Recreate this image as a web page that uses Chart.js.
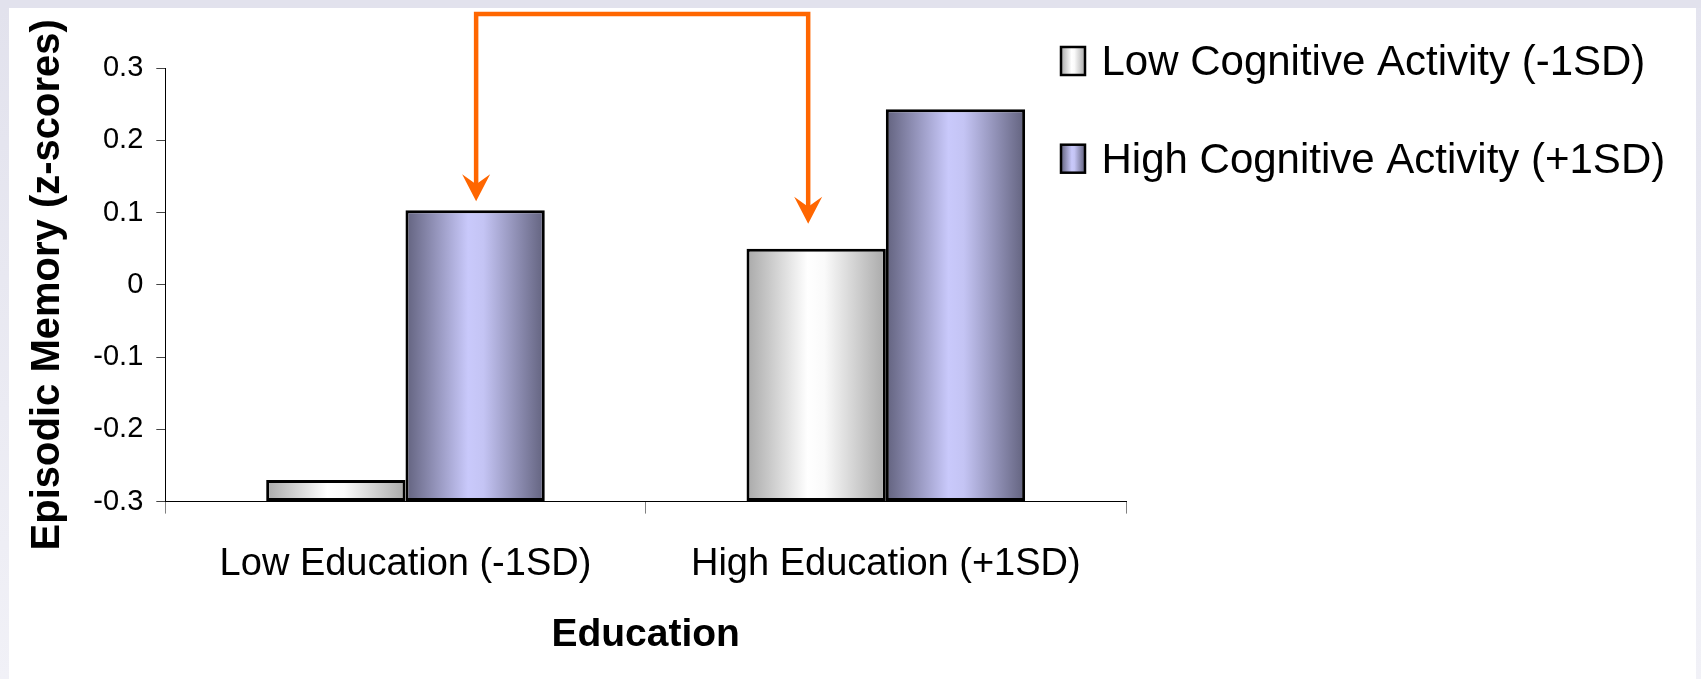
<!DOCTYPE html>
<html>
<head>
<meta charset="utf-8">
<title>Episodic Memory by Education and Cognitive Activity</title>
<script src="https://cdn.jsdelivr.net/npm/chart.js@4.4.1/dist/chart.umd.min.js"></script>
<style>
  html, body { margin: 0; padding: 0; }
  body { width: 1701px; height: 679px; overflow: hidden; position: relative; background: #e2e2ed; }
  #frameLeft { position: absolute; left: 0; top: 8px; width: 9px; height: 671px; background: linear-gradient(#e2e2ed, #f1f1f7); }
  #frameRight { position: absolute; left: 1696px; top: 8px; width: 5px; height: 671px; background: linear-gradient(#e4e4ef, #f1f1f7); }
  #panel { position: absolute; left: 9px; top: 8px; width: 1687px; height: 671px; background: #ffffff; }
  #chart { position: absolute; left: 0; top: 0; }
</style>
</head>
<body>
<div id="frameLeft"></div>
<div id="frameRight"></div>
<div id="panel"></div>
<canvas id="chart" width="1701" height="679"></canvas>
<script>
// ---- data ----
const CATEGORIES = ['Low Education (-1SD)', 'High Education (+1SD)'];
const SERIES_NAMES = ['Low Cognitive Activity (-1SD)', 'High Cognitive Activity (+1SD)'];
const LOW_COGNITIVE = [-0.27, 0.05];
const HIGH_COGNITIVE = [0.103, 0.243];
const Y_TICKS = [-0.3, -0.2, -0.1, 0, 0.1, 0.2, 0.3];
const X_TITLE = 'Education';
const Y_TITLE = 'Episodic Memory (z-scores)';

// ---- styling ----
const FONT = "'Liberation Sans', Arial, Helvetica, sans-serif";
const CAT_PCT = 0.58;
const SHADES = [
  { flat: '#d8d8d8', stops: [[0, '#a9a9a9'], [0.44, '#ffffff'], [0.56, '#fafafa'], [1, '#a9a9a9']] },
  { flat: '#9c9cc8', stops: [[0, '#62627e'], [0.45, '#c9c9fb'], [0.56, '#c4c4f4'], [1, '#62627e']] }
];

function shadeGradient(ctx, x0, x1, shade) {
  const g = ctx.createLinearGradient(x0, 0, x1, 0);
  shade.stops.forEach(([p, c]) => g.addColorStop(p, c));
  return g;
}

// horizontal cylinder-like shading for each bar, computed from the category scale
function barFill(context) {
  const chart = context.chart;
  const shade = SHADES[context.datasetIndex];
  const xs = chart.scales.x;
  if (!chart.chartArea || !xs || context.dataIndex === undefined) return shade.flat;
  const n = chart.data.labels.length;
  const catW = (xs.right - xs.left) / n;
  const groupW = catW * CAT_PCT;
  const barW = groupW / chart.data.datasets.length;
  const center = xs.getPixelForValue(context.dataIndex);
  const x0 = center - groupW / 2 + context.datasetIndex * barW;
  return shadeGradient(chart.ctx, x0, x0 + barW, shade);
}

// legend with shaded swatches at the upper right
const sideLegend = {
  id: 'sideLegend',
  afterDraw(chart) {
    const ctx = chart.ctx;
    const rows = [75, 172.7];
    ctx.save();
    ctx.font = '42px ' + FONT;
    ctx.textBaseline = 'alphabetic';
    ctx.textAlign = 'left';
    SERIES_NAMES.forEach((name, i) => {
      const base = rows[i];
      const sx = 1061, sw = 24, sh = 28, sy = base - sh;
      ctx.fillStyle = shadeGradient(ctx, sx, sx + sw, SHADES[i]);
      ctx.fillRect(sx, sy, sw, sh);
      ctx.lineWidth = 2.5;
      ctx.strokeStyle = '#000';
      ctx.strokeRect(sx, sy, sw, sh);
      ctx.fillStyle = '#000';
      ctx.fillText(name, 1101.5, base);
    });
    ctx.restore();
  }
};

// orange bracket arrows pointing at the compared bars
const bracketArrows = {
  id: 'bracketArrows',
  afterDatasetsDraw(chart) {
    const left = chart.getDatasetMeta(1).data[0];
    const right = chart.getDatasetMeta(0).data[1];
    if (!left || !right) return;
    const topY = 14;
    const xL = left.x + 1, tipL = left.y - 9;
    const xR = right.x - 8, tipR = right.y - 25;
    const ctx = chart.ctx;
    ctx.save();
    ctx.strokeStyle = '#ff6600';
    ctx.fillStyle = '#ff6600';
    ctx.lineWidth = 4.5;
    ctx.lineJoin = 'miter';
    ctx.beginPath();
    ctx.moveTo(xL, tipL - 14);
    ctx.lineTo(xL, topY);
    ctx.lineTo(xR, topY);
    ctx.lineTo(xR, tipR - 14);
    ctx.stroke();
    [[xL, tipL], [xR, tipR]].forEach(([x, y]) => {
      ctx.beginPath();
      ctx.moveTo(x, y);
      ctx.lineTo(x + 14, y - 27);
      ctx.lineTo(x, y - 17);
      ctx.lineTo(x - 14, y - 27);
      ctx.closePath();
      ctx.fill();
    });
    ctx.restore();
  }
};

const barStyle = {
  base: Y_TICKS[0],
  backgroundColor: barFill,
  borderColor: '#000000',
  borderWidth: 3,
  borderSkipped: false,
  categoryPercentage: CAT_PCT,
  barPercentage: 1
};

new Chart(document.getElementById('chart'), {
  type: 'bar',
  data: {
    labels: CATEGORIES,
    datasets: [
      Object.assign({ label: SERIES_NAMES[0], data: LOW_COGNITIVE }, barStyle),
      Object.assign({ label: SERIES_NAMES[1], data: HIGH_COGNITIVE }, barStyle)
    ]
  },
  options: {
    responsive: false,
    animation: false,
    devicePixelRatio: 1,
    layout: { padding: { left: 0, top: 68, right: 575, bottom: 0 } },
    plugins: {
      colors: { enabled: false },
      legend: { display: false },
      tooltip: { enabled: false },
      title: { display: false }
    },
    scales: {
      x: {
        type: 'category',
        offset: true,
        grid: { display: true, drawOnChartArea: false, drawTicks: true, tickLength: 12, color: '#808080', lineWidth: 1, offset: true },
        border: { display: true, color: '#000000', width: 1 },
        ticks: { color: '#000000', font: { family: FONT, size: 38 }, padding: 28, maxRotation: 0, autoSkip: false },
        title: { display: true, text: X_TITLE, color: '#000000', font: { family: FONT, size: 39, weight: 'bold' }, padding: { top: 0, bottom: 20 } },
        afterFit(scale) { scale.height = 679 - 501.6; }
      },
      y: {
        type: 'linear',
        min: Y_TICKS[0],
        max: Y_TICKS[Y_TICKS.length - 1],
        afterBuildTicks(scale) { scale.ticks = Y_TICKS.map(v => ({ value: v })); },
        grid: { display: true, drawOnChartArea: false, drawTicks: true, tickLength: 9, color: '#444444', lineWidth: 1 },
        border: { display: true, color: '#000000', width: 1 },
        ticks: { color: '#000000', font: { family: FONT, size: 29 }, padding: 13, callback: v => String(Math.round(v * 10) / 10) },
        title: { display: true, text: Y_TITLE, color: '#000000', font: { family: FONT, size: 40, weight: 'bold' }, padding: { top: 24, bottom: 0 } },
        afterFit(scale) { scale.width = 165.3; }
      }
    }
  },
  plugins: [sideLegend, bracketArrows]
});
</script>
</body>
</html>
